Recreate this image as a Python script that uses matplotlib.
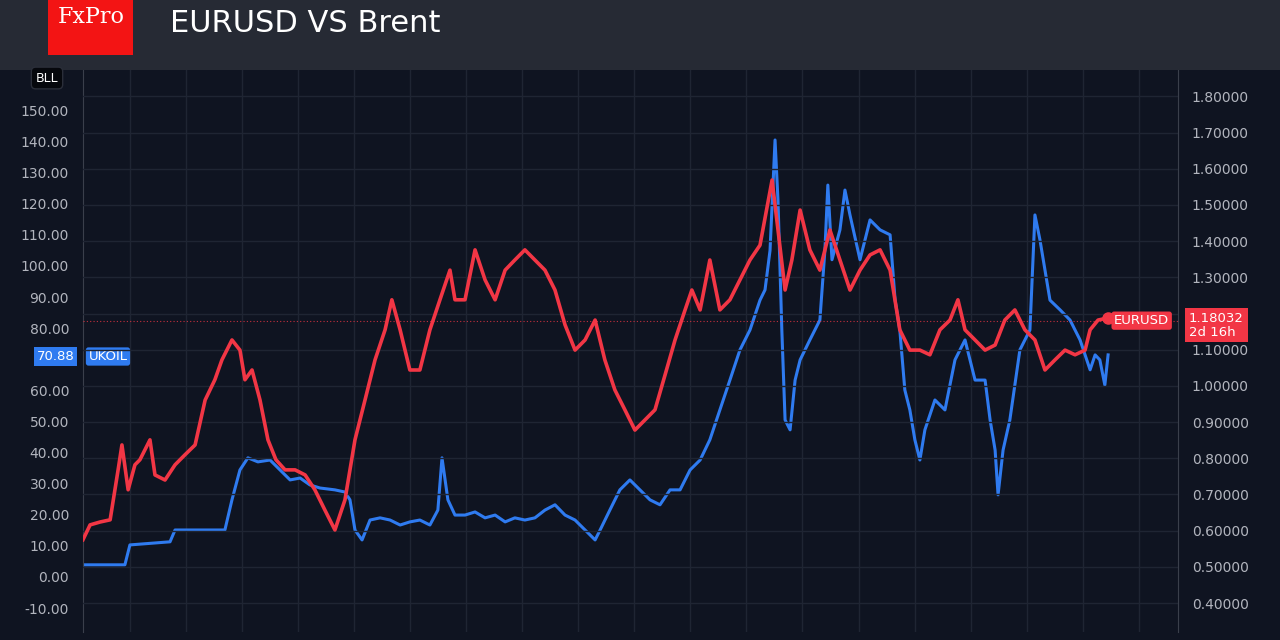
import matplotlib.pyplot as plt
from matplotlib.patches import Rectangle

# Brent (UKOIL), left axis
oil_t = [1987.00, 1988.42, 1988.59, 1989.95, 1990.12, 1991.81, 1992.05, 1992.32, 1992.59, 1992.93,
         1993.34, 1993.68, 1994.02, 1994.36, 1994.69, 1995.03, 1995.54, 1995.88, 1996.05, 1996.22,
         1996.46, 1996.73, 1997.07, 1997.41, 1997.75, 1998.08, 1998.42, 1998.76, 1999.03, 1999.17,
         1999.37, 1999.61, 1999.95, 2000.29, 2000.63, 2000.97, 2001.31, 2001.64, 2001.98, 2002.32,
         2002.66, 2003.00, 2003.34, 2003.68, 2004.02, 2004.36, 2004.53, 2004.86, 2005.20, 2005.54,
         2005.88, 2006.22, 2006.56, 2006.90, 2007.24, 2007.58, 2007.92, 2008.25, 2008.59, 2008.93,
         2009.27, 2009.61, 2009.95, 2010.12, 2010.29, 2010.46, 2010.56, 2010.69, 2010.80, 2010.97,
         2011.14, 2011.31, 2011.64, 2011.98, 2012.15, 2012.25, 2012.39, 2012.66, 2012.83, 2013.00,
         2013.34, 2013.68, 2014.02, 2014.36, 2014.53, 2014.69, 2014.86, 2015.03, 2015.20, 2015.37,
         2015.54, 2015.88, 2016.22, 2016.56, 2016.90, 2017.24, 2017.58, 2017.75, 2017.92, 2018.02,
         2018.19, 2018.42, 2018.76, 2019.10, 2019.27, 2019.44, 2019.78, 2020.12, 2020.46, 2020.80,
         2021.14, 2021.31, 2021.47, 2021.64, 2021.75]
oil_v = [3.9, 3.9, 10.3, 11.3, 15.1, 15.1, 24.8, 34.4, 38.3, 37.0,
         37.6, 34.4, 31.2, 31.8, 29.6, 28.6, 28.0, 27.3, 24.8, 15.1,
         11.9, 18.3, 19.0, 18.3, 16.7, 17.7, 18.3, 16.7, 21.5, 38.3,
         24.8, 19.9, 19.9, 20.9, 19.0, 19.9, 17.7, 19.0, 18.3, 19.0,
         21.5, 23.2, 19.9, 18.3, 15.1, 11.9, 15.1, 21.5, 28.0, 31.2,
         28.0, 24.8, 23.2, 28.0, 28.0, 34.4, 37.6, 44.1, 53.7, 63.3,
         73.0, 79.4, 89.0, 92.3, 105.0, 140.5, 121.0, 79.4, 50.5, 47.3,
         63.3, 69.8, 76.2, 82.6, 105.0, 126.0, 102.0, 111.6, 124.4, 116.4,
         102.0, 114.8, 111.6, 110.0, 89.0, 79.4, 60.1, 53.7, 44.1, 37.6,
         47.3, 56.9, 53.7, 69.8, 76.2, 63.3, 63.3, 50.5, 40.8, 26.4,
         40.8, 50.5, 73.0, 79.4, 116.4, 108.4, 89.0, 85.9, 82.6, 76.2,
         66.6, 71.4, 69.8, 61.7, 71.4]

# EURUSD, right axis
eur_t = [1987.00, 1987.24, 1987.58, 1987.92, 1988.19, 1988.32, 1988.53, 1988.76, 1988.93, 1989.27,
         1989.44, 1989.78, 1990.12, 1990.46, 1990.80, 1991.14, 1991.47, 1991.71, 1992.05, 1992.32,
         1992.49, 1992.73, 1993.00, 1993.27, 1993.54, 1993.85, 1994.19, 1994.53, 1994.86, 1995.20,
         1995.54, 1995.88, 1996.22, 1996.56, 1996.90, 1997.24, 1997.47, 1997.75, 1998.08, 1998.42,
         1998.76, 1999.10, 1999.44, 1999.61, 1999.95, 2000.29, 2000.63, 2000.97, 2001.31, 2001.64,
         2001.98, 2002.32, 2002.66, 2003.00, 2003.34, 2003.68, 2004.02, 2004.36, 2004.69, 2005.03,
         2005.37, 2005.71, 2006.05, 2006.39, 2006.73, 2007.07, 2007.41, 2007.64, 2007.92, 2008.25,
         2008.59, 2008.93, 2009.27, 2009.61, 2009.95, 2010.36, 2010.56, 2010.80, 2011.03, 2011.31,
         2011.64, 2011.98, 2012.32, 2012.66, 2013.00, 2013.34, 2013.68, 2014.02, 2014.36, 2014.69,
         2015.03, 2015.37, 2015.71, 2016.05, 2016.39, 2016.66, 2016.90, 2017.24, 2017.58, 2017.92,
         2018.25, 2018.59, 2018.93, 2019.27, 2019.61, 2019.95, 2020.29, 2020.63, 2020.97, 2021.14,
         2021.41, 2021.75]
eur_v = [0.575, 0.616, 0.624, 0.630, 0.768, 0.837, 0.713, 0.782, 0.796, 0.851,
         0.754, 0.740, 0.782, 0.810, 0.837, 0.961, 1.017, 1.072, 1.127, 1.099,
         1.017, 1.044, 0.961, 0.851, 0.796, 0.768, 0.768, 0.754, 0.713, 0.657,
         0.602, 0.685, 0.851, 0.961, 1.072, 1.155, 1.238, 1.155, 1.044, 1.044,
         1.155, 1.238, 1.320, 1.238, 1.238, 1.376, 1.293, 1.238, 1.320, 1.348,
         1.376, 1.348, 1.320, 1.265, 1.169, 1.099, 1.127, 1.182, 1.072, 0.989,
         0.934, 0.878, 0.906, 0.934, 1.030, 1.127, 1.210, 1.265, 1.210, 1.348,
         1.210, 1.238, 1.293, 1.348, 1.389, 1.569, 1.431, 1.265, 1.348, 1.486,
         1.376, 1.320, 1.431, 1.348, 1.265, 1.320, 1.362, 1.376, 1.320, 1.155,
         1.099, 1.099, 1.086, 1.155, 1.182, 1.238, 1.155, 1.127, 1.099, 1.113,
         1.182, 1.210, 1.155, 1.127, 1.044, 1.072, 1.099, 1.086, 1.099, 1.155,
         1.182, 1.188]

oil_last = 70.88
eur_last = 1.18032

bg = '#0f1421'
grid_c = '#1f2533'
text_c = '#b2b5be'
blue = '#2f7bf0'
red = '#f23645'

fig = plt.figure(figsize=(12.8, 6.4), dpi=100, facecolor=bg)
ax = fig.add_axes([83/1280, 1 - 632/640, (1178 - 83)/1280, (632 - 70)/640])
ax.set_facecolor(bg)
ax2 = ax.twinx()

ax.plot(oil_t, oil_v, color=blue, lw=2.2)
ax2.plot(eur_t, eur_v, color=red, lw=2.6)
ax2.plot(eur_t[-1], eur_v[-1], 'o', color=red, ms=8)
ax2.axhline(eur_last, color=red, lw=0.8, ls=(0, (1, 2)), alpha=0.8)

ax.set_xlim(1987.0, 2024.12)
ax.set_ylim(-17.7, 163)
ax2.set_ylim(0.320, 1.873)
l_ticks = list(range(-10, 151, 10))
ax.set_yticks(l_ticks)
ax.set_yticklabels(['' if v == 70 else f'{v:.2f}' for v in l_ticks])
r_ticks = [0.4 + 0.1 * i for i in range(15)]
ax2.set_yticks(r_ticks)
ax2.set_yticklabels(['' if abs(v - 1.2) < 1e-6 else f'{v:.5f}' for v in r_ticks])
ax.set_xticks([1988.59 + 1.9 * i for i in range(19)])
ax.set_xticklabels([])
ax.tick_params(axis='x', length=0)
for a in (ax, ax2):
    a.tick_params(axis='y', colors=text_c, labelsize=10, length=0, pad=10)
    for s in a.spines.values():
        s.set_visible(False)
ax.spines['left'].set_visible(True)
ax.spines['left'].set_color('#3a3f4b')
ax2.spines['right'].set_visible(True)
ax2.spines['right'].set_color('#3a3f4b')
ax.grid(axis='x', color=grid_c, lw=1)
ax2.grid(axis='y', color=grid_c, lw=1)
ax.set_axisbelow(True)

# price tags
ax.text(-0.008, oil_last, f'{oil_last:.2f}', transform=ax.get_yaxis_transform(), ha='right', va='center',
        color='white', fontsize=9.5, bbox=dict(boxstyle='square,pad=0.2', fc=blue, ec='none'))
ax.text(0.005, oil_last, 'UKOIL', transform=ax.get_yaxis_transform(), ha='left', va='center',
        color='white', fontsize=9.5, bbox=dict(boxstyle='round,pad=0.2', fc=blue, ec='none'))
ax2.text(0.992, eur_last, 'EURUSD', transform=ax2.get_yaxis_transform(), ha='right', va='center',
         color='white', fontsize=9.5, bbox=dict(boxstyle='round,pad=0.2', fc=red, ec='none'), zorder=5)
ax2.text(1.01, eur_last - 0.012, f'{eur_last:.5f}\n2d 16h', transform=ax2.get_yaxis_transform(), ha='left',
         va='center', color='white', fontsize=9.5, linespacing=1.1,
         bbox=dict(boxstyle='square,pad=0.3', fc=red, ec='none'), zorder=5)
fig.text(47/1280, 1 - 78/640, 'BLL', color='white', fontsize=9, ha='center', va='center',
         bbox=dict(boxstyle='round,pad=0.35', fc='#06080d', ec='#2a2e39'))

# header
fig.add_artist(Rectangle((0, 1 - 70/640), 1, 70/640, transform=fig.transFigure, fc='#262a34', ec='none'))
fig.add_artist(Rectangle((48/1280, 1 - 55/640), 85/1280, 55/640, transform=fig.transFigure, fc='#f31414', ec='none'))
fig.text(91/1280, 1 - 17/640, 'FxPro', color='white', fontsize=16, family='DejaVu Serif', ha='center', va='center')
fig.text(170/1280, 1 - 24/640, 'EURUSD VS Brent', color='white', fontsize=22, ha='left', va='center')

fig.savefig('out.png', dpi=100, facecolor=bg)
